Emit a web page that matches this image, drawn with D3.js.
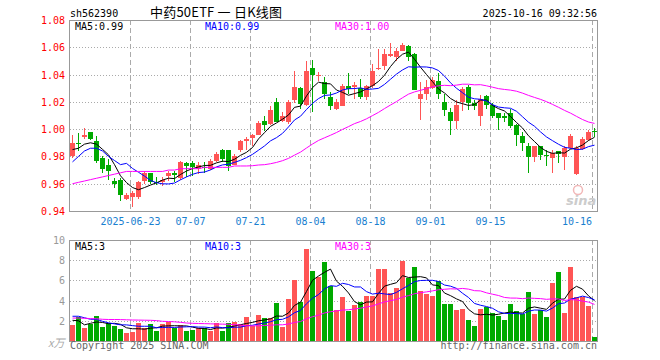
<!DOCTYPE html>
<html>
<head>
<meta charset="utf-8">
<script src="https://cdn.jsdelivr.net/npm/d3@7"></script>
<style>
  body { margin: 0; background: #fff; }
  svg { display: block; font-family: "DejaVu Sans Mono", "Liberation Mono", monospace; font-size: 10px; }
</style>
</head>
<body>
<svg width="660" height="360"></svg>
<script>
// daily candles, 2025-06-09 .. 2025-10-16 (88 trading days)
const open = [0.980,0.990,0.994,0.998,0.991,0.979,0.974,0.962,0.963,0.949,
  0.950,0.950,0.962,0.968,0.9612,0.961,0.9656,0.968,0.964,0.975,
  0.975,0.971,0.9725,0.9707,0.977,0.985,0.985,0.974,0.985,0.991,
  0.9937,0.996,1.006,1.004,1.020,1.006,1.005,1.021,1.030,1.018,
  1.0447,1.0393,1.0344,1.0234,1.015,1.0173,1.0315,1.0307,1.030,1.0234,
  1.0315,1.044,1.046,1.0539,1.0527,1.0576,1.0612,1.0551,1.0222,1.0259,
  1.030,1.0356,1.0198,1.0124,1.0058,1.020,1.031,1.0195,1.0098,1.0244,
  1.018,1.0115,1.0098,1.0118,1.003,0.995,0.9873,0.9793,0.9873,0.9814,
  0.9788,0.9841,0.9793,0.9861,0.9671,0.9856,0.9921,0.9985];
const high = [0.996,0.997,1.001,0.998,0.995,0.980,0.978,0.964,0.964,0.953,
  0.955,0.962,0.969,0.968,0.965,0.965,0.969,0.969,0.977,0.976,
  0.977,0.976,0.976,0.978,0.983,0.9855,0.985,0.9815,0.992,0.994,
  0.9965,1.006,1.010,1.017,1.0225,1.0123,1.0215,1.0425,1.031,1.050,
  1.0505,1.042,1.038,1.027,1.022,1.033,1.041,1.0345,1.0368,1.032,
  1.048,1.0588,1.059,1.063,1.0595,1.063,1.062,1.056,1.0345,1.036,
  1.0385,1.041,1.0259,1.0156,1.021,1.031,1.032,1.021,1.0248,1.0253,
  1.019,1.012,1.0115,1.015,1.004,0.998,0.9897,0.9875,0.9875,0.9848,
  0.9848,0.9841,0.9873,0.9962,0.9873,0.9946,0.9995,1.0006];
const low = [0.979,0.984,0.993,0.992,0.975,0.968,0.963,0.957,0.947,0.948,
  0.943,0.949,0.960,0.960,0.959,0.958,0.962,0.961,0.963,0.965,
  0.966,0.967,0.968,0.970,0.976,0.9756,0.969,0.9735,0.983,0.985,
  0.988,0.996,0.999,1.003,1.005,1.005,1.004,1.0195,1.015,1.017,
  1.0125,1.0356,1.022,1.0137,1.0137,1.017,1.0258,1.022,1.022,1.021,
  1.0305,1.043,1.043,1.0527,1.050,1.057,1.050,1.0285,1.007,1.021,
  1.0295,1.022,1.010,0.996,1.0002,1.0132,1.014,1.014,1.002,1.015,
  1.008,0.9995,1.0055,1.001,0.9873,0.984,0.968,0.9759,0.9776,0.9727,
  0.968,0.9752,0.970,0.9856,0.9665,0.985,0.991,0.9946];
const close = [0.990,0.989,0.996,0.993,0.977,0.971,0.969,0.960,0.952,0.952,
  0.953,0.961,0.968,0.961,0.9603,0.963,0.968,0.9665,0.976,0.973,
  0.972,0.974,0.9718,0.9766,0.982,0.978,0.973,0.980,0.991,0.993,
  0.9957,1.0045,1.003,1.014,1.0055,1.0094,1.020,1.031,1.0185,1.0427,
  1.040,1.040,1.026,1.0173,1.020,1.0315,1.0295,1.032,1.0234,1.0315,
  1.0429,1.0449,1.055,1.0551,1.0576,1.062,1.0527,1.0288,1.0259,1.0307,
  1.036,1.0259,1.0141,1.0058,1.0178,1.0297,1.0195,1.017,1.0224,1.018,
  1.0098,1.0079,1.0084,1.0025,0.9958,0.9897,0.9793,0.9873,0.9812,0.981,
  0.9824,0.9817,0.9861,0.9953,0.9861,0.9926,0.9982,0.998];
const volume = [1.6,2.4,1.27,1.67,2.47,1.37,1.77,1.47,1.17,0.77,
  0.87,1.77,1.27,1.67,0.97,1.67,1.93,1.33,1.57,0.97,
  1.07,1.33,1.27,1.03,1.77,0.97,1.77,1.87,1.70,2.37,
  1.5,2.57,2.27,2.27,3.77,1.37,4.17,6.03,3.87,9.07,
  6.9,6.3,7.87,5.45,3.1,4.37,3.0,3.57,3.87,4.47,
  4.47,7.17,7.17,4.77,5.27,7.97,6.27,7.37,4.97,4.67,
  4.47,5.97,3.67,3.67,3.07,3.17,2.07,1.47,3.17,3.37,
  2.77,2.47,2.07,3.67,2.97,2.67,4.87,2.67,3.07,2.37,
  5.77,6.8,2.77,7.37,4.37,4.37,3.47,0.4];

// moving-average values at the left edge (history before the window)
const ma5Head = [0.985,0.986,0.989,0.990];
const ma10Head = [0.976,0.980,0.984,0.986,0.986,0.984,0.980,0.977,0.974];
const ma30Head = [0.960,0.961,0.962,0.963,0.964,0.965,0.966,0.967,0.968,0.969,
  0.969,0.969,0.969,0.969,0.969,0.969,0.970,0.970,0.971,0.971,
  0.971,0.971,0.972,0.972,0.972,0.972,0.972,0.973,0.973];
const vma5Head = [2.05,2.0,1.6,1.75];
const vma10Head = [2.45,2.45,2.3,2.15,2.15,1.95,1.8,1.7,1.6];
const vma30Head = [2.27,2.27,2.25,2.22,2.2,2.15,2.13,2.13,2.12,2.1,
  2.08,2.07,2.06,2.05,2.02,1.95,1.93,1.9,1.85,1.78,
  1.75,1.73,1.72,1.7,1.68,1.67,1.65,1.62,1.58];

const tickIdx = [10, 20, 30, 40, 50, 60, 70, 87];
const tickLabels = ['2025-06-23', '07-07', '07-21', '08-04', '08-18', '09-01', '09-15', '10-16'];
const priceTicks = [0.94, 0.96, 0.98, 1.00, 1.02, 1.04, 1.06, 1.08];
const volTicks = [2, 4, 6, 8, 10];

const RED = '#f55', GREEN = '#0a0';
const svg = d3.select('svg');

let x = d3.scaleBand().domain(d3.range(close.length)).range([70, 597]).paddingInner(1 / 6).align(0);
let y = d3.scaleLinear().domain([0.94, 1.08]).range([211, 20]);
let yv = d3.scaleLinear().domain([0, 10]).range([341, 240]);
const cx = (i) => x(i) + 2.5;

function ma(arr, n, head) {
  return arr.map((_, i) => (i < n - 1 ? head[i] : d3.mean(arr.slice(i - n + 1, i + 1))));
}

function grid(yScale, ticks, top, bottom) {
  ticks.forEach((t) => {
    let yy = Math.round(yScale(t)) + 0.5;
    if (yy <= top + 1 || yy >= bottom - 1) return;
    svg.append('line').attr('x1', 70).attr('x2', 597).attr('y1', yy).attr('y2', yy)
      .attr('stroke', '#aaa').attr('stroke-dasharray', '1,2');
  });
  tickIdx.forEach((i) => {
    svg.append('line').attr('x1', x(i) + 0.5).attr('x2', x(i) + 0.5).attr('y1', top).attr('y2', bottom)
      .attr('stroke', '#aaa').attr('stroke-dasharray', '5,3');
  });
}

grid(y, priceTicks, 20, 211);
grid(yv, [0].concat(volTicks), 240, 341);

// candles
let candles = svg.append('g').attr('shape-rendering', 'crispEdges');
close.forEach((c, i) => {
  let color = c >= open[i] ? RED : GREEN;
  candles.append('line').attr('x1', cx(i)).attr('x2', cx(i))
    .attr('y1', y(high[i])).attr('y2', y(low[i])).attr('stroke', color);
  let top = y(Math.max(open[i], c));
  let h = Math.max(1, Math.abs(y(open[i]) - y(c)));
  candles.append('rect').attr('x', x(i)).attr('y', top).attr('width', x.bandwidth()).attr('height', h)
    .attr('fill', color);
});

// volume bars
let bars = svg.append('g').attr('shape-rendering', 'crispEdges');
volume.forEach((v, i) => {
  bars.append('rect').attr('x', x(i)).attr('y', yv(v)).attr('width', x.bandwidth())
    .attr('height', yv(0) - yv(v)).attr('fill', close[i] >= open[i] ? RED : GREEN);
});

// moving averages
let lines = [
  [ma(close, 5, ma5Head), y, '#000'],
  [ma(close, 10, ma10Head), y, '#00f'],
  [ma(close, 30, ma30Head), y, '#f0f'],
  [ma(volume, 5, vma5Head), yv, '#000'],
  [ma(volume, 10, vma10Head), yv, '#00f'],
  [ma(volume, 30, vma30Head), yv, '#f0f'],
];
lines.forEach(([vals, sc, color]) => {
  let line = d3.line().x((d, i) => cx(i)).y((d) => sc(d));
  svg.append('path').attr('d', line(vals)).attr('fill', 'none').attr('stroke', color).attr('stroke-width', 1);
});

// panel borders
[[20, 211], [240, 341]].forEach(([t, b]) => {
  svg.append('rect').attr('x', 69.5).attr('y', t + 0.5).attr('width', 528).attr('height', b - t)
    .attr('fill', 'none').attr('stroke', '#999').attr('shape-rendering', 'crispEdges');
});

// axis labels
priceTicks.forEach((t) => {
  svg.append('text').attr('x', 65).attr('y', y(t) + 4).attr('text-anchor', 'end')
    .attr('fill', '#f00').text(d3.format('.2f')(t));
});
volTicks.forEach((t) => {
  svg.append('text').attr('x', 65).attr('y', yv(t) + 4).attr('text-anchor', 'end')
    .attr('fill', '#999').text(t);
});
svg.append('text').attr('x', 48).attr('y', 347).attr('fill', '#aaa').attr('font-style', 'italic')
  .attr('font-family', 'Noto Sans CJK SC').attr('font-size', 11).text('x万');

tickIdx.forEach((idx, k) => {
  let last = k === tickIdx.length - 1;
  svg.append('text').attr('x', last ? x(idx) : x(idx) + 0.5).attr('y', 225)
    .attr('text-anchor', last ? 'end' : 'middle').attr('fill', '#1a80d0').text(tickLabels[k]);
});

// header
svg.append('text').attr('x', 70).attr('y', 17).attr('fill', '#000').text('sh562390');
svg.append('text').attr('x', 150).attr('y', 17).attr('fill', '#000')
  .attr('font-family', '"Noto Sans CJK SC", sans-serif').attr('font-size', 13)
  .attr('textLength', 132).attr('lengthAdjust', 'spacing').text('中药50ETF 一 日K线图');
svg.append('text').attr('x', 597).attr('y', 17).attr('text-anchor', 'end').attr('fill', '#000')
  .text('2025-10-16 09:32:56');

// MA legends
[['MA5:0.99', 75, '#000'], ['MA10:0.99', 205, '#00f'], ['MA30:1.00', 335, '#f0f']].forEach(([t, xx, c]) => {
  svg.append('text').attr('x', xx).attr('y', 30).attr('fill', c).text(t);
});
[['MA5:3', 75, '#000'], ['MA10:3', 205, '#00f'], ['MA30:3', 335, '#f0f']].forEach(([t, xx, c]) => {
  svg.append('text').attr('x', xx).attr('y', 250).attr('fill', c).text(t);
});

// watermark + footer
svg.append('circle').attr('cx', 578).attr('cy', 190).attr('r', 4.5).attr('fill', 'none')
  .attr('stroke', '#f2b8b8').attr('stroke-width', 1.5);
svg.append('text').attr('x', 566).attr('y', 205).attr('fill', '#ccc').attr('font-family', 'DejaVu Sans')
  .attr('font-style', 'italic').attr('font-weight', 'bold').attr('font-size', 13).text('sina');
svg.append('text').attr('x', 70).attr('y', 349).attr('fill', '#666').text('Copyright 2025 SINA.COM');
svg.append('text').attr('x', 597).attr('y', 349).attr('text-anchor', 'end').attr('fill', '#666')
  .text('http://finance.sina.com.cn');
</script>
</body>
</html>
